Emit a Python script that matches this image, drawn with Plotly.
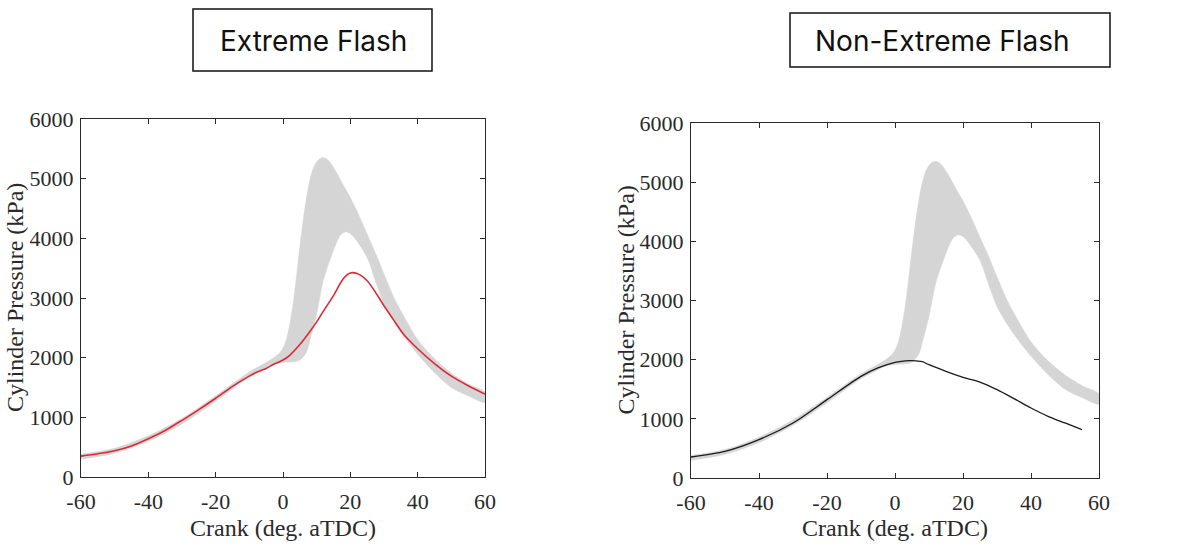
import plotly.graph_objects as go

# ---- data ----
crank_ticks = [-60, -40, -20, 0, 20, 40, 60]
crank_labels = ["-60", "-40", "-20", "0", "20", "40", "60"]
pressure_ticks = [0, 1000, 2000, 3000, 4000, 5000, 6000]

# envelope of the grey cycle band (kPa)
band_upper_x = [-60, -50, -40, -30, -20, -10, -5, -3, -1, 0, 1, 2, 3, 4, 5, 6, 7, 8, 9, 10, 11, 12, 13, 14,
                16, 18, 20, 22, 25, 28, 30, 33, 36, 40, 45, 50, 55, 60]
band_upper_y = [380, 480, 690, 980, 1360, 1760, 1920, 1990, 2080, 2160, 2300, 2550, 2900, 3350, 3850, 4300, 4680,
                4980, 5170, 5280, 5335, 5350, 5330, 5270, 5090, 4880, 4680, 4450, 4070, 3680, 3400, 3000, 2680,
                2300, 1980, 1740, 1560, 1420]
band_lower_x = [-60, -50, -40, -30, -20, -10, -5, -3, 0, 3, 5, 7, 8, 10, 12, 15, 17, 18.5, 20, 22, 25, 28, 30,
                33, 36, 40, 45, 50, 55, 60]
band_lower_y = [300, 400, 600, 890, 1270, 1680, 1830, 1890, 1920, 1930, 1960, 2100, 2290, 2740, 3300, 3800, 4050,
                4110, 4080, 3950, 3680, 3200, 2900, 2600, 2350, 2060, 1750, 1500, 1360, 1250]

# extreme flash cycle (red)
extreme_x = [-60, -55, -50, -45, -40, -35, -30, -25, -20, -15, -10, -8, -5, -3, 0, 2, 5, 8, 10, 12, 15, 18, 20,
             22, 25, 28, 30, 33, 36, 40, 45, 50, 55, 60]
extreme_y = [350, 390, 440, 520, 640, 780, 950, 1130, 1320, 1520, 1690, 1750, 1820, 1880, 1960, 2040, 2220, 2440,
             2600, 2780, 3040, 3330, 3420, 3410, 3290, 3050, 2870, 2620, 2380, 2150, 1900, 1690, 1530, 1390]

# non-extreme flash cycle (black)
nonextreme_x = [-60, -50, -40, -30, -20, -10, -5, 0, 3, 5, 8, 10, 15, 20, 25, 30, 35, 40, 45, 50, 55]
nonextreme_y = [355, 450, 648, 930, 1324, 1718, 1860, 1955, 1980, 1983, 1966, 1915, 1803, 1701, 1622, 1493, 1341,
                1183, 1042, 930, 817]

panel_titles = ["Extreme Flash", "Non-Extreme Flash"]
x_title = "Crank (deg. aTDC)"
y_title = "Cylinder Pressure (kPa)"

# ---- figure ----
fig = go.Figure()
band_x = band_upper_x + band_lower_x[::-1]
band_y = band_upper_y + band_lower_y[::-1]

for ax in ["", "2"]:
    fig.add_trace(go.Scatter(x=band_x, y=band_y, fill="toself", fillcolor="#d5d5d5",
                             line=dict(width=0.6, color="#d5d5d5", shape="spline", smoothing=0.8), mode="lines",
                             xaxis="x" + ax, yaxis="y" + ax, hoverinfo="skip", showlegend=False))

fig.add_trace(go.Scatter(x=extreme_x, y=extreme_y, mode="lines",
                         line=dict(color="#dc2a35", width=1.6, shape="spline", smoothing=0.8),
                         xaxis="x", yaxis="y", showlegend=False))
fig.add_trace(go.Scatter(x=nonextreme_x, y=nonextreme_y, mode="lines",
                         line=dict(color="#1a1a1a", width=1.3, shape="spline", smoothing=0.8),
                         xaxis="x2", yaxis="y2", showlegend=False))

W, H = 1178, 544
TXT = "#2a2a2a"
tick_font = dict(family="Liberation Serif, Times New Roman, serif", size=22, color=TXT)


def axis(domain, vals, rng, anchor, labels=None, standoff=None):
    d = dict(domain=domain, range=rng, tickvals=vals, ticks="inside", ticklen=5, tickcolor=TXT,
             showline=True, linecolor=TXT, linewidth=1, mirror="ticks", showgrid=False, zeroline=False,
             tickfont=tick_font, anchor=anchor, automargin=False, fixedrange=True)
    if labels is not None:
        d["ticktext"] = labels
    if standoff is not None:
        d["ticklabelstandoff"] = standoff
    return d


L = (81, 485, 119, 477)
R = (691, 1099, 123, 478)

fig.update_layout(
    width=W, height=H, margin=dict(l=0, r=0, t=0, b=0),
    paper_bgcolor="white", plot_bgcolor="white",
    xaxis=axis([L[0] / W, L[1] / W], crank_ticks, [-60, 60], "y", crank_labels, 5),
    yaxis=axis([1 - L[3] / H, 1 - L[2] / H], pressure_ticks, [0, 6000], "x", None, 2),
    xaxis2=axis([R[0] / W, R[1] / W], crank_ticks, [-60, 60], "y2", crank_labels, 5),
    yaxis2=axis([1 - R[3] / H, 1 - R[2] / H], pressure_ticks, [0, 6000], "x2", None, 2),
)

title_font = dict(family="Inter, Noto Sans, sans-serif", size=28, color="#111111")
boxes = [(193, 432, 9, 71, 313), (790, 1110, 13, 67, 942)]
for (x0, x1, y0, y1, cx), t in zip(boxes, panel_titles):
    fig.add_shape(type="rect", xref="paper", yref="paper", x0=x0 / W, x1=x1 / W, y0=1 - y1 / H, y1=1 - y0 / H,
                  line=dict(color="#111111", width=1.5), fillcolor="white")
    fig.add_annotation(xref="paper", yref="paper", x=cx / W, y=1 - ((y0 + y1) / 2 + 1) / H, text=t,
                       showarrow=False, font=title_font, xanchor="center", yanchor="middle")

xt_font = dict(family="Liberation Serif, Times New Roman, serif", size=24, color=TXT)
yt_font = dict(family="Liberation Serif, Times New Roman, serif", size=24, color=TXT)
for (x0, x1, y0, y1), ytx in [(L, 15), (R, 625)]:
    fig.add_annotation(xref="paper", yref="paper", x=(x0 + x1) / 2 / W, y=1 - 528 / H, text=x_title,
                       showarrow=False, font=xt_font, xanchor="center", yanchor="middle")
    fig.add_annotation(xref="paper", yref="paper", x=ytx / W, y=1 - ((y0 + y1) / 2) / H, text=y_title,
                       showarrow=False, font=yt_font, textangle=-90, xanchor="center", yanchor="middle")

fig.write_html("out.html")
